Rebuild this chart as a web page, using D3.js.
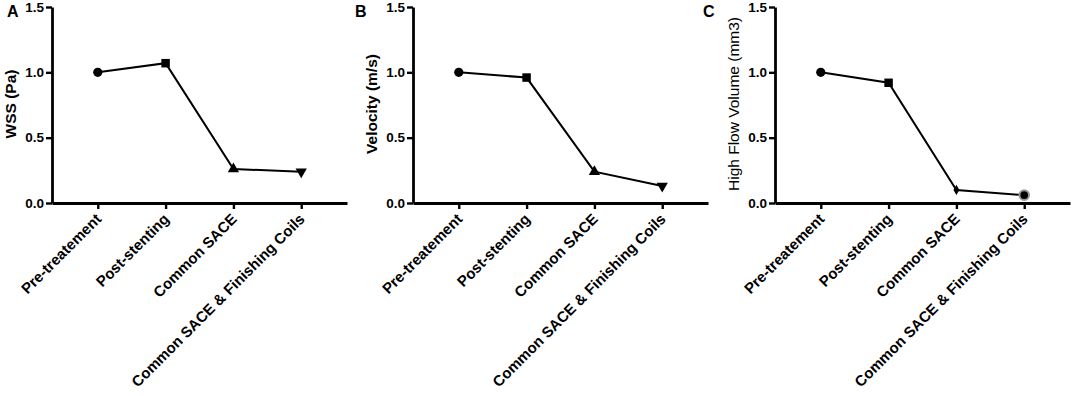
<!DOCTYPE html>
<html>
<head>
<meta charset="utf-8">
<script src="https://cdn.jsdelivr.net/npm/d3@7"></script>
<style>
  body { margin: 0; background: #fff; }
  text { font-family: "Liberation Sans", Arial, sans-serif; }
</style>
</head>
<body>
<svg id="fig" width="1074" height="396"></svg>
<script>
// data
const categories = ["Pre-treatement", "Post-stenting", "Common SACE", "Common SACE & Finishing Coils"];
const wss = [1.0, 1.07, 0.26, 0.24];
const velocity = [1.0, 0.96, 0.24, 0.13];
const volume = [1.0, 0.92, 0.10, 0.06];
const yTicks = [0, 0.5, 1.0, 1.5];

const panels = [
    { letter: "A", letterX: 7, label: "WSS (Pa)", values: wss, left: 52, right: 347, bold: true,
      symbols: ["circle", "square", "triUp", "triDown"] },
    { letter: "B", letterX: 355, label: "Velocity (m/s)", values: velocity, left: 413, right: 708, bold: true,
      symbols: ["circle", "square", "triUp", "triDown"] },
    { letter: "C", letterX: 703, label: "High Flow Volume (mm3)", values: volume, left: 775, right: 1070, bold: false,
      symbols: ["circle", "square", "diamond", "ring"] }
];

const plotTop = 7, plotBottom = 203;
const fig = d3.select("#fig");

function drawMarker(g, kind, x, y) {
    if (kind === "circle") {
        g.append("circle").attr("cx", x).attr("cy", y).attr("r", 4.6).attr("fill", "#000");
    } else if (kind === "square") {
        g.append("path").attr("transform", `translate(${x},${y})`)
            .attr("d", d3.symbol(d3.symbolSquare, 72)()).attr("fill", "#000");
    } else if (kind === "triUp") {
        g.append("path").attr("transform", `translate(${x},${y})`)
            .attr("d", d3.symbol(d3.symbolTriangle, 55)()).attr("fill", "#000");
    } else if (kind === "triDown") {
        g.append("path").attr("transform", `translate(${x},${y}) rotate(180)`)
            .attr("d", d3.symbol(d3.symbolTriangle, 55)()).attr("fill", "#000");
    } else if (kind === "diamond") {
        g.append("path").attr("transform", `translate(${x},${y})`)
            .attr("d", d3.symbol(d3.symbolDiamond, 30)()).attr("fill", "#000");
    } else if (kind === "ring") {
        g.append("circle").attr("cx", x).attr("cy", y).attr("r", 4.8)
            .attr("fill", "#000").attr("stroke", "#999").attr("stroke-width", 2);
    }
}

panels.forEach(function(p) {
    var x = d3.scalePoint()
        .domain(categories)
        .range([p.left, p.right])
        .padding(0.675);

    var y = d3.scaleLinear()
        .domain([0, 1.5])
        .range([plotBottom, plotTop]);

    var g = fig.append("g");

    // x axis, labels slanted up to the right and ending under each tick
    var xg = g.append("g")
        .attr("transform", "translate(0," + plotBottom + ")")
        .call(d3.axisBottom(x).tickSize(6).tickSizeOuter(0));
    xg.select(".domain").attr("stroke-width", 2.8);
    xg.selectAll(".tick line").attr("stroke-width", 2.4);
    xg.selectAll(".tick text")
        .attr("font-size", 15)
        .attr("font-weight", "bold")
        .attr("fill", "#000")
        .attr("text-anchor", "end")
        .attr("y", 0)
        .attr("dy", 0)
        .attr("transform", "translate(4,17) rotate(-45)");

    // y axis
    var yg = g.append("g")
        .attr("transform", "translate(" + p.left + ",0)")
        .call(d3.axisLeft(y).tickValues(yTicks).tickFormat(d3.format(".1f"))
            .tickSize(6).tickPadding(2).tickSizeOuter(0));
    yg.select(".domain").attr("stroke-width", 2.8);
    yg.selectAll(".tick line").attr("stroke-width", 2.4);
    yg.selectAll(".tick text")
        .attr("font-size", 13.5)
        .attr("font-weight", "bold")
        .attr("fill", "#000");

    // y label
    g.append("text")
        .attr("transform", "translate(" + (p.left - 36) + ",104) rotate(-90)")
        .attr("text-anchor", "middle")
        .attr("font-size", 15.5)
        .attr("font-weight", p.bold ? "bold" : "normal")
        .text(p.label);

    // panel letter
    g.append("text")
        .attr("x", p.letterX)
        .attr("y", 17)
        .attr("font-size", 16)
        .attr("font-weight", "bold")
        .text(p.letter);

    // line + markers
    var lineMaker = d3.line()
        .x((d, i) => x(categories[i]))
        .y(d => y(d));

    g.append("path")
        .attr("fill", "none")
        .attr("stroke", "#000")
        .attr("stroke-width", 2)
        .attr("d", lineMaker(p.values));

    p.values.forEach(function(v, i) {
        drawMarker(g, p.symbols[i], x(categories[i]), y(v));
    });
});
</script>
</body>
</html>
